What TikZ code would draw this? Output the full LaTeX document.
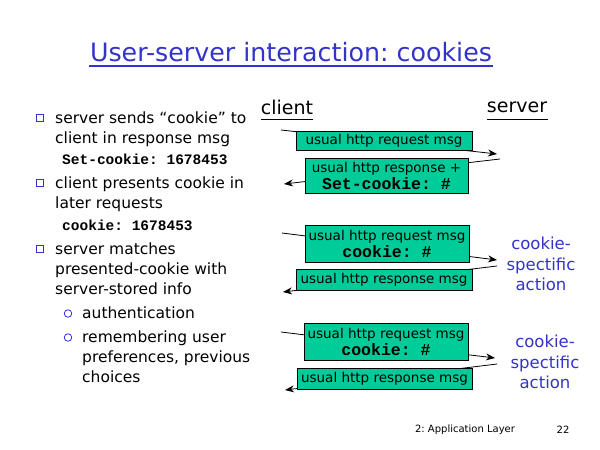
\documentclass[tikz,border=0pt]{standalone}
\usepackage{fontspec}
\setmainfont{DejaVu Sans}
\newfontfamily\monob{Liberation Mono}
\usetikzlibrary{arrows.meta}
\definecolor{ttl}{RGB}{51,51,204}
\definecolor{boxg}{RGB}{0,204,153}
\frenchspacing
\tikzset{
  txt/.style={anchor=base west,inner sep=0pt,font=\fontsize{15.5}{18}\selectfont},
  code/.style={anchor=base west,inner sep=0pt,font=\monob\bfseries\fontsize{14.5}{16}\selectfont},
  sqb/.style={draw=ttl,line width=0.9pt,minimum size=7pt,inner sep=0pt},
  cirb/.style={draw=ttl,circle,line width=0.8pt,minimum size=7.5pt,inner sep=0pt},
  msgbox/.style={draw=black,fill=boxg,line width=0.8pt,inner sep=0pt,align=center,font=\fontsize{13.5}{16}\selectfont},
  boxcode/.style={font=\monob\bfseries\fontsize{16.5}{18}\selectfont},
  msg/.style={draw=black,line width=0.8pt,-{Stealth[length=9pt,width=7pt]}},
  act/.style={text=ttl,align=center,inner sep=0pt,font=\fontsize{16.5}{20.5}\selectfont},
  hdr/.style={inner sep=0pt,font=\fontsize{19}{22}\selectfont},
}
\newcommand\bxc[1]{{\monob\bfseries\fontsize{16.5}{18}\selectfont #1}}
\begin{document}
\begin{tikzpicture}[x=1pt,y=-1pt]
\useasboundingbox (0,0) rectangle (600,450);
% title
\node[inner sep=0pt,text=ttl,font=\fontsize{25.3}{28}\selectfont] (title) at (291,52) {User-server interaction: cookies};
\draw[ttl,line width=1.6pt] (89,66) -- (493,66);
% left bullets
\node[sqb] (b1) at (40,118) {};
\node[txt] (t1) at (55,123) {server sends “cookie” to};
\node[txt] (t2) at (55,143) {client in response msg};
\node[code] (c1) at (62,164.5) {Set-cookie: 1678453};
\node[sqb] (b2) at (40,183) {};
\node[txt] (t3) at (55,188) {client presents cookie in};
\node[txt] (t4) at (55,208) {later requests};
\node[code] (c2) at (62,230.5) {cookie: 1678453};
\node[sqb] (b3) at (40,249) {};
\node[txt] (t5) at (55,254) {server matches};
\node[txt] (t6) at (55,274) {presented-cookie with};
\node[txt] (t7) at (55,294) {server-stored info};
\node[cirb] (o1) at (68,313.5) {};
\node[txt] (t8) at (82,318) {authentication};
\node[cirb] (o2) at (68,337.5) {};
\node[txt] (t9) at (82,342) {remembering user};
\node[txt] (t10) at (82,362) {preferences, previous};
\node[txt] (t11) at (82,382) {choices};
% headers
\node[hdr] (client) at (287,107) {client};
\draw[line width=1pt] (261,119.5) -- (313,119.5);
\node[hdr] (server) at (517,107) {server};
\draw[line width=1pt] (487,119.5) -- (548,119.5);
% arrow endpoints
\coordinate (a1s) at (281,130); \coordinate (a1e) at (497,154);
\coordinate (a2s) at (500,159); \coordinate (a2e) at (284,184);
\coordinate (a3s) at (282,233); \coordinate (a3e) at (497,260);
\coordinate (a4s) at (497,266); \coordinate (a4e) at (283,292);
\coordinate (a5s) at (281,332); \coordinate (a5e) at (495,358);
\coordinate (a6s) at (497,364); \coordinate (a6e) at (285,390);
\draw[msg] (a1s) -- (a1e);
\draw[msg] (a2s) -- (a2e);
\draw[msg] (a3s) -- (a3e);
\draw[msg] (a4s) -- (a4e);
\draw[msg] (a5s) -- (a5e);
\draw[msg] (a6s) -- (a6e);
% boxes
\node[msgbox,minimum width=176pt,minimum height=19pt] (m1) at (384,140.5) {usual http request msg};
\node[msgbox,minimum width=163pt,minimum height=35pt] (m2) at (386.5,175.5) {usual http response +\\[1pt]\bxc{Set-cookie: \#}};
\node[msgbox,minimum width=164pt,minimum height=37pt] (m3) at (387,243.5) {usual http request msg\\[1pt]\bxc{cookie: \#}};
\node[msgbox,minimum width=176pt,minimum height=21pt] (m4) at (384,279.5) {usual http response msg};
\node[msgbox,minimum width=164pt,minimum height=37pt] (m5) at (386,341.5) {usual http request msg\\[1pt]\bxc{cookie: \#}};
\node[msgbox,minimum width=175pt,minimum height=21pt] (m6) at (384.5,378.5) {usual http response msg};
% actions
\node[act] (act1) at (541,264) {cookie-\\spectific\\action};
\node[act] (act2) at (545,362) {cookie-\\spectific\\action};
% footer
\node[inner sep=0pt,font=\fontsize{10}{14}\selectfont] (foot) at (465,430) {2: Application Layer};
\node[inner sep=0pt,font=\fontsize{10}{14}\selectfont] (page) at (563,430) {22};
\end{tikzpicture}
\end{document}
